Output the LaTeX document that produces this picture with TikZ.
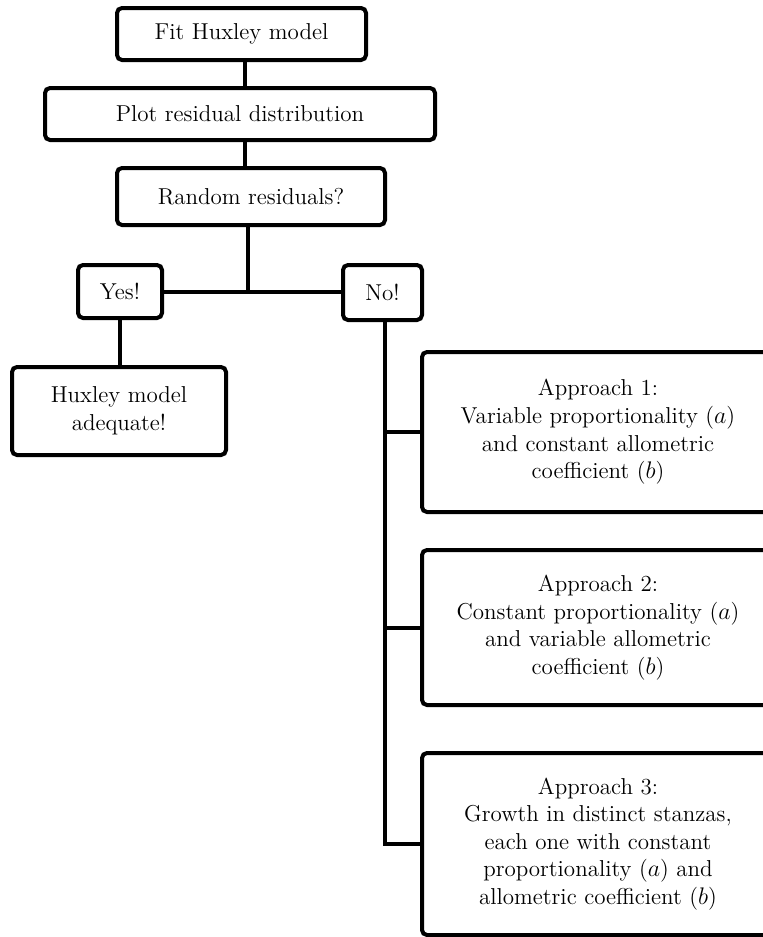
\documentclass[tikz,border=0pt]{standalone}
\usetikzlibrary{calc}
\begin{document}
\begin{tikzpicture}[x=0.5pt,y=-0.5pt,
  box/.style={draw, line width=2pt, rounded corners=2.5pt, inner sep=0pt, align=center,
    font=\fontsize{11.5}{13.8}\selectfont},
  link/.style={line width=2pt}]
\useasboundingbox (0,0) rectangle (763,937);
\clip (0,0) rectangle (763,937);
\node[box, minimum width=124.5pt, minimum height=26pt] (fit) at (241.5,34) {Fit Huxley model};
\node[box, minimum width=195pt, minimum height=26pt] (plot) at (240,114) {Plot residual distribution};
\node[box, minimum width=134pt, minimum height=28.5pt] (rand) at (251,196.5) {Random residuals?};
\node[box, minimum width=42pt, minimum height=26.5pt] (yes) at (120,291.5) {Yes!};
\node[box, minimum width=39.5pt, minimum height=27.5pt] (no) at (382.5,292.5) {No!};
\node[box, minimum width=107pt, minimum height=44pt] (adeq) at (119,411) {Huxley model\\adequate!};
\node[box, minimum width=176pt, minimum height=80pt] (a1) at (598,432)
  {Approach 1:\\Variable proportionality ($a$)\\and constant allometric\\coefficient ($b$)};
\node[box, minimum width=176pt, minimum height=77.5pt] (a2) at (598,627.5)
  {Approach 2:\\Constant proportionality ($a$)\\and variable allometric\\coefficient ($b$)};
\node[box, minimum width=176pt, minimum height=91pt] (a3) at (598,844)
  {Approach 3:\\Growth in distinct stanzas,\\each one with constant\\proportionality ($a$) and\\allometric coefficient ($b$)};
\coordinate (j1) at (245,0);
\coordinate (j2) at (248,0);
\coordinate (j3) at (385,0);
\draw[link] (fit.south -| j1) -- (plot.north -| j1);
\draw[link] (plot.south -| j1) -- (rand.north -| j1);
\draw[link] (rand.south -| j2) -- (yes.east -| j2);
\draw[link] (yes.east) -- (yes.east -| no.west);
\draw[link] (yes.south) -- (yes.south |- adeq.north);
\draw[link] (no.south -| j3) -- (a3.west -| j3) -- (a3.west);
\draw[link] (a1.west -| j3) -- (a1.west);
\draw[link] (a2.west -| j3) -- (a2.west);
\end{tikzpicture}
\end{document}
